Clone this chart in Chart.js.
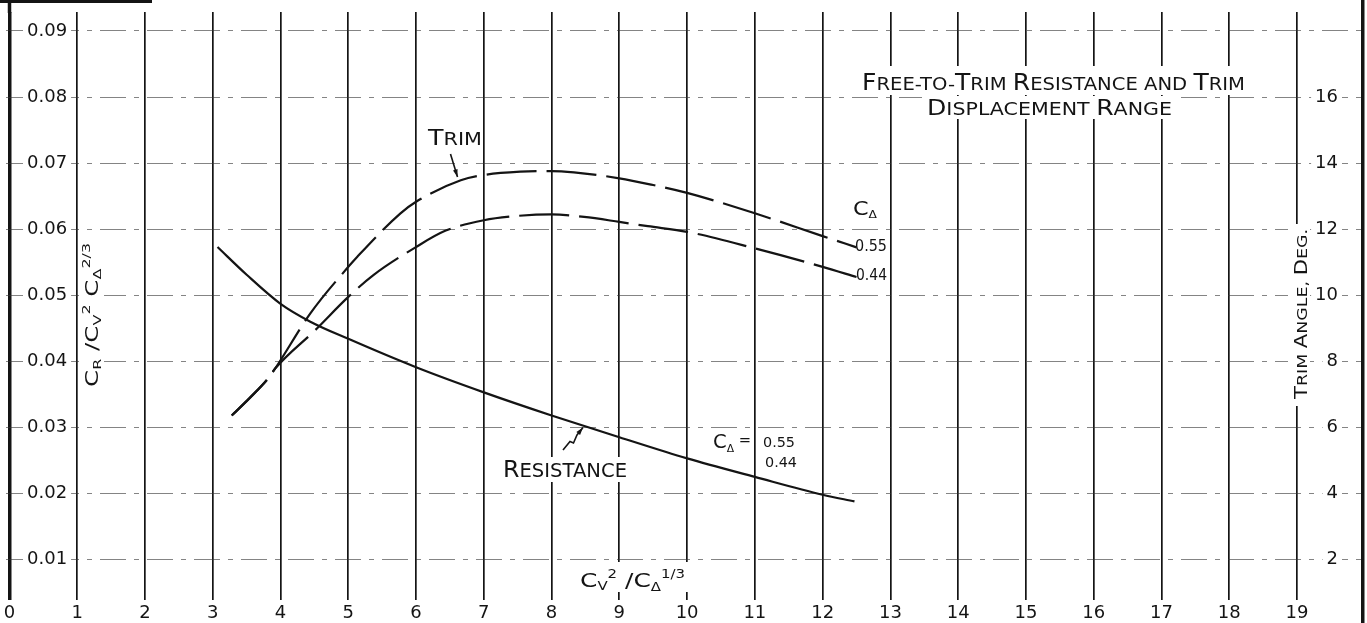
<!DOCTYPE html>
<html>
<head>
<meta charset="utf-8">
<script src="https://cdn.jsdelivr.net/npm/chart.js@4.4.1/dist/chart.umd.min.js"></script>
<style>
html,body{margin:0;padding:0;background:#fff;overflow:hidden}
#wrap{position:relative;width:1367px;height:623px}
</style>
</head>
<body>
<div id="wrap"><canvas id="c"></canvas></div>
<script>
// ---------- data ----------
const xTicks = [0,1,2,3,4,5,6,7,8,9,10,11,12,13,14,15,16,17,18,19];
const resistanceTicks = [0.01,0.02,0.03,0.04,0.05,0.06,0.07,0.08,0.09];
const trimTicks = [2,4,6,8,10,12,14,16];

const resistanceX = [3.07,3.5,4.0,4.44,5.0,6.0,7.0,8.0,9.0,10.0,11.0,12.0,12.47];
const resistanceY = [0.0573,0.0531,0.0487,0.0460,0.0434,0.0391,0.0353,0.0318,0.0285,0.0253,0.0225,0.0198,0.0188];

const trim055X = [3.28,3.55,3.82,3.92,4.44,5.0,5.13,5.77,6.0,6.66,7.0,7.54,8.0,8.33,9.0,9.47,10.0,11.0,12.0,12.5];
const trim055Y = [6.36,6.90,7.49,7.78,9.45,10.86,11.16,12.48,12.83,13.48,13.64,13.74,13.76,13.72,13.54,13.35,13.10,12.48,11.79,11.45];

const trim044X = [3.28,3.55,3.82,3.92,4.51,5.0,5.37,6.0,6.43,7.0,7.49,8.0,8.48,9.0,9.42,10.0,11.0,12.0,12.5];
const trim044Y = [6.36,6.90,7.49,7.78,8.94,9.95,10.61,11.46,11.95,12.27,12.40,12.45,12.37,12.22,12.09,11.92,11.42,10.86,10.55];

// ---------- styling / layout ----------
const F = '"DejaVu Sans", "Liberation Sans", sans-serif';
const INK = '#141414';

function capsRuns(text, big, small) {
  const runs = [];
  for (const ch of text) {
    const isBig = /[A-Z]/.test(ch);
    const size = isBig ? big : small;
    const t = ch.toUpperCase();
    if (runs.length && runs[runs.length - 1].size === size) runs[runs.length - 1].t += t;
    else runs.push({ t, size });
  }
  return runs;
}

function drawRuns(ctx, runs, x, y, o) {
  o = o || {};
  let natural = 0;
  for (const r of runs) {
    ctx.font = r.size + 'px ' + F;
    r.w = ctx.measureText(r.t).width;
    natural += r.w;
  }
  const sx = o.width ? o.width / natural : 1;
  ctx.save();
  ctx.translate(x, y);
  if (o.rotate) ctx.rotate(o.rotate);
  let start = 0;
  if (o.align === 'center') start = -natural * sx / 2;
  else if (o.align === 'right') start = -natural * sx;
  ctx.translate(start, 0);
  ctx.scale(sx, 1);
  ctx.fillStyle = INK;
  ctx.textBaseline = 'alphabetic';
  ctx.textAlign = 'left';
  let cx = 0;
  for (const r of runs) {
    ctx.font = r.size + 'px ' + F;
    ctx.fillText(r.t, cx, r.dy || 0);
    cx += r.w;
  }
  ctx.restore();
}

function arrow(ctx, pts, head) {
  head = head || 8;
  ctx.save();
  ctx.strokeStyle = INK; ctx.fillStyle = INK; ctx.lineWidth = 1.6;
  ctx.beginPath();
  ctx.moveTo(pts[0][0], pts[0][1]);
  for (let i = 1; i < pts.length; i++) ctx.lineTo(pts[i][0], pts[i][1]);
  ctx.stroke();
  const [x1, y1] = pts[pts.length - 2], [x2, y2] = pts[pts.length - 1];
  const a = Math.atan2(y2 - y1, x2 - x1);
  ctx.beginPath();
  ctx.moveTo(x2, y2);
  ctx.lineTo(x2 - head * Math.cos(a - 0.3), y2 - head * Math.sin(a - 0.3));
  ctx.lineTo(x2 - head * Math.cos(a + 0.3), y2 - head * Math.sin(a + 0.3));
  ctx.closePath();
  ctx.fill();
  ctx.restore();
}

const whiteBoxes = [
  [858, 66, 392, 29],   // title line 1
  [922, 96, 256, 23],   // title line 2
  [80, 238, 24, 154],   // left axis title
  [1288, 224, 22, 182], // right axis title
  [576, 562, 114, 30],  // x axis title
  [499, 457, 132, 25],  // RESISTANCE
  [425, 126, 57, 23]    // TRIM
];

function noPad(s) { s.paddingTop = 0; s.paddingBottom = 0; s.paddingLeft = 0; s.paddingRight = 0; }

const decorPlugin = {
  id: 'decor',
  beforeDatasetsDraw(chart) {
    const ctx = chart.ctx;
    ctx.save();
    ctx.fillStyle = '#fff';
    for (const b of whiteBoxes) ctx.fillRect(b[0], b[1], b[2], b[3]);
    const xs = chart.scales.x;
    const x0 = xs.getPixelForValue(0);
    ctx.fillStyle = INK;
    ctx.fillRect(x0 - 1.75, 0, 3.5, chart.chartArea.top + 1);
    ctx.fillRect(0, 0, 152, 3);
    ctx.fillRect(chart.chartArea.right - 1, 0, 3.5, 623);
    ctx.restore();
  },
  afterDraw(chart) {
    const ctx = chart.ctx;
    drawRuns(ctx, capsRuns('Free-to-Trim Resistance and Trim', 23, 18), 862, 89.5, { width: 383 });
    drawRuns(ctx, capsRuns('Displacement Range', 22, 18), 927, 115, { width: 245 });
    drawRuns(ctx, capsRuns('Trim', 22, 18), 428, 145, { width: 54 });
    drawRuns(ctx, capsRuns('Resistance', 23, 19), 503, 477, { width: 124 });
    arrow(ctx, [[450.5, 154], [457.5, 177]]);
    arrow(ctx, [[563, 450], [570, 441.5], [573.5, 443], [577, 435], [583, 427.5]]);
    drawRuns(ctx, [{ t: 'C', size: 20 }, { t: 'Δ', size: 11, dy: 3 }], 853, 215, { width: 24 });
    drawRuns(ctx, [{ t: '0.55', size: 15 }], 855, 251, { width: 32 });
    drawRuns(ctx, [{ t: '0.44', size: 15 }], 856, 280, { width: 31 });
    drawRuns(ctx, [{ t: 'C', size: 20 }, { t: 'Δ', size: 11, dy: 4 }, { t: ' =', size: 15, dy: -3 }], 713, 448, { width: 38 });
    drawRuns(ctx, [{ t: '0.55', size: 14 }], 763, 447, { width: 32 });
    drawRuns(ctx, [{ t: '0.44', size: 14 }], 765, 467, { width: 32 });
    drawRuns(ctx, [
      { t: 'C', size: 20 }, { t: 'V', size: 12, dy: 3 }, { t: '2', size: 12, dy: -9 },
      { t: ' /', size: 20 }, { t: 'C', size: 20 }, { t: 'Δ', size: 12, dy: 4 }, { t: '1/3', size: 12, dy: -9 }
    ], 580, 587, { width: 105 });
    drawRuns(ctx, [
      { t: 'C', size: 17 }, { t: 'R', size: 11, dy: 3 }, { t: ' /', size: 17 }, { t: 'C', size: 17 },
      { t: 'V', size: 11, dy: 3 }, { t: '2', size: 11, dy: -8 }, { t: ' C', size: 17 },
      { t: 'Δ', size: 11, dy: 3 }, { t: '2/3', size: 11, dy: -8 }
    ], 98, 315, { width: 144, align: 'center', rotate: -Math.PI / 2 });
    drawRuns(ctx, capsRuns('Trim Angle, Deg.', 17, 14), 1307, 314, { width: 170, align: 'center', rotate: -Math.PI / 2 });
  }
};

const pts = (xs, ys) => xs.map((x, i) => ({ x, y: ys[i] }));

new Chart(document.getElementById('c'), {
  type: 'line',
  data: {
    datasets: [
      { label: 'Resistance', data: pts(resistanceX, resistanceY), yAxisID: 'y',
        borderColor: INK, borderWidth: 2.2, pointRadius: 0, cubicInterpolationMode: 'monotone', fill: false },
      { label: 'Trim C\u0394 0.55', data: pts(trim055X, trim055Y), yAxisID: 'y2',
        borderColor: INK, borderWidth: 2.2, borderDash: [50, 10], pointRadius: 0, cubicInterpolationMode: 'monotone', fill: false },
      { label: 'Trim C\u0394 0.44', data: pts(trim044X, trim044Y), yAxisID: 'y2',
        borderColor: INK, borderWidth: 2.2, borderDash: [50, 10], pointRadius: 0, cubicInterpolationMode: 'monotone', fill: false }
    ]
  },
  options: {
    responsive: true,
    maintainAspectRatio: false,
    animation: false,
    events: [],
    layout: { padding: { top: 12, left: 0, right: 0, bottom: 0 } },
    plugins: { legend: { display: false }, tooltip: { enabled: false } },
    scales: {
      x: {
        type: 'linear', position: 'bottom', min: -0.0517, max: 19.96,
        afterBuildTicks: s => { s.ticks = xTicks.map(v => ({ value: v })); },
        afterFit: s => { s.height = 23; noPad(s); },
        grid: { color: INK, lineWidth: c => (c.tick && c.tick.value === 0 ? 3.5 : 1.7), drawTicks: false },
        border: { display: false },
        ticks: { font: { family: F, size: 18 }, color: INK, padding: 3, maxRotation: 0, autoSkip: false,
                 callback: v => String(v) }
      },
      y: {
        type: 'linear', position: 'left', min: 0.003866, max: 0.092876,
        afterBuildTicks: s => { s.ticks = resistanceTicks.map(v => ({ value: v })); },
        afterFit: s => { s.width = 6; noPad(s); },
        grid: { color: 'rgba(50,50,50,0.6)', lineWidth: 1, drawTicks: false },
        border: { display: false, dash: [26, 8, 5, 8] },
        ticks: { mirror: true, crossAlign: 'near', padding: 21, font: { family: F, size: 18 }, color: INK,
                 showLabelBackdrop: true, backdropColor: '#fff', backdropPadding: { top: 1, bottom: 1, left: 4, right: 4 },
                 callback: v => Number(v).toFixed(2) }
      },
      y2: {
        type: 'linear', position: 'right', min: 0.7732, max: 18.575, z: 1,
        afterBuildTicks: s => { s.ticks = trimTicks.map(v => ({ value: v })); },
        afterFit: s => { s.width = 5; noPad(s); },
        grid: { display: false, drawTicks: false },
        border: { display: false },
        ticks: { mirror: true, crossAlign: 'near', padding: -24, font: { family: F, size: 18 }, color: INK,
                 showLabelBackdrop: true, backdropColor: '#fff', backdropPadding: { top: 1, bottom: 1, left: 4, right: 4 },
                 callback: v => String(v) }
      }
    }
  },
  plugins: [decorPlugin]
});
</script>
</body>
</html>
